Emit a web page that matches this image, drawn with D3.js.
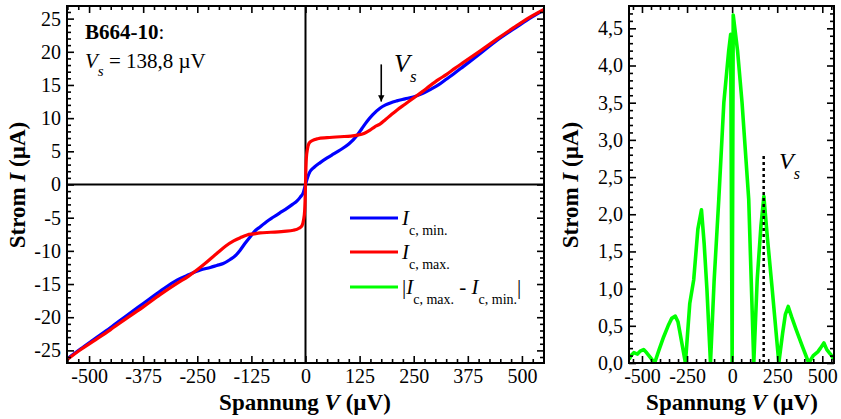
<!DOCTYPE html>
<html><head><meta charset="utf-8">
<script src="https://cdn.jsdelivr.net/npm/d3@7"></script>
<style>
body{margin:0;background:#fff;}
svg text{font-family:"Liberation Serif","Times New Roman",serif !important;fill:#000;}
</style></head>
<body><svg id="c" width="841" height="419"></svg>
<script>
// ---------- data ----------
const blueV = [-551,-520,-490,-451,-412,-374,-336,-297,-270,-243,-220,-205,-190,-174,-160,-151,-140,-128,-115,-105,-90,-74,-60,-43,-30,-20,-12,-5,0,5,10,20,34,50,65,80,100,119,130,142,155,172,185,196,211,230,249,270,288,307,326,345,365,403,442,480,510,551];
const blueI = [-26.3,-24.8,-23.4,-21.6,-19.7,-17.9,-16.1,-14.4,-13.6,-12.9,-12.5,-12.2,-11.9,-11.3,-10.6,-9.9,-8.9,-7.9,-6.9,-6.4,-5.6,-4.9,-4.3,-3.6,-3.0,-2.5,-1.9,-1.2,0,1.1,1.9,2.6,3.3,4.0,4.6,5.2,6.1,7.4,8.4,9.5,10.5,11.5,12.0,12.3,12.6,12.9,13.2,13.7,14.3,15.0,15.9,16.8,17.8,19.7,21.7,23.4,24.7,26.3];
const redV = [-551,-520,-490,-451,-412,-374,-336,-297,-270,-251,-230,-205,-185,-166,-150,-135,-120,-105,-80,-50,-28,-15,-8,-4.6,-2,-1,0,1,2,4.6,8,15,28,50,80,105,120,135,149,160,172,185,196,211,230,249,270,288,307,326,345,365,403,442,480,510,551];
const redI = [-26.4,-24.9,-23.6,-21.9,-20.1,-18.4,-16.6,-14.9,-13.8,-12.9,-11.8,-10.4,-9.3,-8.5,-8.0,-7.6,-7.45,-7.3,-7.2,-7.05,-6.9,-6.6,-6.2,-5.4,-4.0,-2.5,0,2.5,4.0,5.4,6.2,6.6,6.9,7.05,7.2,7.3,7.45,7.7,8.2,8.7,9.1,9.8,10.4,11.2,12.1,13.0,14.0,14.9,15.8,16.6,17.5,18.4,20.1,21.9,23.6,24.9,26.4];
const greenV = [-572,-560,-545,-525,-510,-491,-475,-455,-430,-405,-380,-355,-335,-315,-300,-285,-259,-235,-213,-190,-170,-155,-140,-120,-100,-74,-46,-19,-8,0,6,30,55,92,120,139,160,176,195,222,259,280,295,311,330,355,390,425,450,475,490,509,525,545,565];
const greenI = [0.05,0.1,0.14,0.12,0.16,0.18,0.14,0.08,0.0,0.18,0.35,0.5,0.6,0.63,0.55,0.35,0.0,0.8,1.12,1.8,2.06,1.6,1.0,0.0,1.1,2.2,3.5,4.2,4.42,0.0,4.68,4.2,3.5,2.2,0.0,1.12,1.85,2.24,1.7,1.0,0.0,0.4,0.65,0.76,0.62,0.45,0.22,0.0,0.1,0.15,0.2,0.27,0.18,0.12,0.05];
const leftXTicks = [-500,-375,-250,-125,0,125,250,375,500];
const leftYTicks = [-25,-20,-15,-10,-5,0,5,10,15,20,25];
const rightXTicks = [-500,-250,0,250,500];
const rightYTicks = [0,0.5,1.0,1.5,2.0,2.5,3.0,3.5,4.0,4.5];
const Vs = 175;

// ---------- drawing ----------
const svg = d3.select("#c");
const FONT = '"Liberation Serif", serif';
const fmtInt = d => String(d).replace("\u2212","-");
const fmtDec = d => d.toFixed(1).replace(".",",");

function frame(x, y, xMaj, xMin, yMaj, yMin, xf, yf) {
  const [x0,x1] = x.range(), [y0,y1] = y.range();
  const g = svg.append("g");
  const add = (axis, tr) => {
    const a = g.append("g").attr("transform", tr).call(axis);
    a.attr("font-family", FONT).attr("font-size", 20);
    a.select(".domain").remove();
    a.selectAll("line").attr("stroke","#000").attr("stroke-width",1.6);
    a.selectAll("text").attr("font-family", FONT).style("font-size","20px");
    return a;
  };
  add(d3.axisBottom(x).tickValues(xMin).tickSize(-4).tickFormat(""), `translate(0,${y0})`);
  add(d3.axisBottom(x).tickValues(xMaj).tickSize(-7).tickPadding(6).tickFormat(xf), `translate(0,${y0})`);
  add(d3.axisTop(x).tickValues(xMin).tickSize(-4).tickFormat(""), `translate(0,${y1})`);
  add(d3.axisTop(x).tickValues(xMaj).tickSize(-7).tickFormat(""), `translate(0,${y1})`);
  add(d3.axisLeft(y).tickValues(yMin).tickSize(-4).tickFormat(""), `translate(${x0},0)`);
  add(d3.axisLeft(y).tickValues(yMaj).tickSize(-7).tickPadding(6).tickFormat(yf), `translate(${x0},0)`);
  add(d3.axisRight(y).tickValues(yMin).tickSize(-4).tickFormat(""), `translate(${x1},0)`);
  add(d3.axisRight(y).tickValues(yMaj).tickSize(-7).tickFormat(""), `translate(${x1},0)`);
  g.append("rect").attr("x",x0).attr("y",y1).attr("width",x1-x0).attr("height",y0-y1)
    .attr("fill","none").attr("stroke","#000").attr("stroke-width",2);
}

// Left panel
const xL = d3.scaleLinear().domain([-551,551]).range([67,544]);
const yL = d3.scaleLinear().domain([-26.9,26.9]).range([363,6]);
const lxMin = d3.range(-550,551,25).filter(v=>v%125!==0);
const lyMin = d3.range(-26,27,1).filter(v=>v%5!==0);

svg.append("clipPath").attr("id","clipL").append("rect")
  .attr("x",67).attr("y",6).attr("width",477).attr("height",357);
const gl = svg.append("g").attr("clip-path","url(#clipL)");
gl.append("line").attr("x1",xL(0)).attr("x2",xL(0)).attr("y1",6).attr("y2",363).attr("stroke","#000").attr("stroke-width",2);
gl.append("line").attr("x1",67).attr("x2",544).attr("y1",yL(0)).attr("y2",yL(0)).attr("stroke","#000").attr("stroke-width",2);
const lineL = d3.line().x(d=>xL(d[0])).y(d=>yL(d[1])).curve(d3.curveMonotoneX);
gl.append("path").datum(blueV.map((v,i)=>[v,blueI[i]])).attr("d",lineL)
  .attr("fill","none").attr("stroke","#0000ff").attr("stroke-width",3.2);
gl.append("path").datum(redV.map((v,i)=>[v,redI[i]])).attr("d",lineL)
  .attr("fill","none").attr("stroke","#ff0000").attr("stroke-width",3.2);
frame(xL,yL,leftXTicks,lxMin,leftYTicks,lyMin,fmtInt,fmtInt);

// arrow
svg.append("defs").append("marker").attr("id","ah").attr("viewBox","0 0 10 10")
  .attr("refX",10).attr("refY",5).attr("markerWidth",4).attr("markerHeight",5)
  .attr("markerUnits","strokeWidth").attr("orient","auto")
  .append("path").attr("d","M0,0 L10,5 L0,10 z").attr("fill","#000");
svg.append("line").attr("x1",xL(Vs)).attr("x2",xL(Vs)).attr("y1",yL(18.1)).attr("y2",yL(12.5))
  .attr("stroke","#000").attr("stroke-width",1.6).attr("marker-end","url(#ah)");
const vsL = svg.append("text").attr("x",394).attr("y",72).style("font-size","26px");
vsL.append("tspan").style("font-style","italic").text("V");
vsL.append("tspan").attr("dy",10).style("font-style","italic").style("font-size","17px").text("s");

// sample label
const t1 = svg.append("text").attr("x",85).attr("y",39).style("font-size","21px");
t1.append("tspan").style("font-weight","bold").text("B664-10");
t1.append("tspan").text(":");
const t2 = svg.append("text").attr("x",85).attr("y",68).style("font-size","21px");
t2.append("tspan").style("font-style","italic").text("V");
t2.append("tspan").attr("dy",8).style("font-style","italic").style("font-size","15px").text("s");
t2.append("tspan").attr("dy",-8).text(" = 138,8 \u00b5V");

// legend
const leg = [["#0000ff","min."],["#ff0000","max."],["#00ff00",null]];
const legY = [218,252,287];
leg.forEach((l,i)=>{
  svg.append("line").attr("x1",350).attr("x2",398).attr("y1",legY[i]).attr("y2",legY[i])
    .attr("stroke",l[0]).attr("stroke-width",3);
  const t = svg.append("text").attr("x",402).attr("y",legY[i]+7).style("font-size","21px");
  if (l[1]) {
    t.append("tspan").style("font-style","italic").text("I");
    t.append("tspan").attr("dy",10).style("font-size","14px").text("c, "+l[1]);
  } else {
    t.append("tspan").text("|");
    t.append("tspan").style("font-style","italic").text("I");
    t.append("tspan").attr("dy",10).style("font-size","14px").text("c, max.");
    t.append("tspan").attr("dy",-10).text(" - ");
    t.append("tspan").style("font-style","italic").text("I");
    t.append("tspan").attr("dy",10).style("font-size","14px").text("c, min.");
    t.append("tspan").attr("dy",-10).text("|");
  }
});

// axis titles
function xTitle(cx){
  const t = svg.append("text").attr("x",cx).attr("y",410).attr("text-anchor","middle")
    .style("font-size","23px").style("font-weight","bold");
  t.append("tspan").text("Spannung ");
  t.append("tspan").style("font-style","italic").text("V");
  t.append("tspan").text(" (\u00b5V)");
}
function yTitle(bx, cy){
  const t = svg.append("text").attr("transform",`translate(${bx},${cy}) rotate(-90)`)
    .attr("text-anchor","middle").style("font-size","23px").style("font-weight","bold");
  t.append("tspan").text("Strom ");
  t.append("tspan").style("font-style","italic").text("I");
  t.append("tspan").text(" (\u00b5A)");
}
xTitle(305); yTitle(25,185);

// Right panel
const xR = d3.scaleLinear().domain([-572,565]).range([629,834]);
const yR = d3.scaleLinear().domain([0,4.8]).range([363,6]);
const rxMin = d3.range(-550,551,50).filter(v=>v%250!==0);
const ryMin = d3.range(1,48,1).map(v=>v/10).filter(v=>Math.round(v*10)%5!==0);
svg.append("clipPath").attr("id","clipR").append("rect")
  .attr("x",629).attr("y",6).attr("width",205).attr("height",357);
const gr = svg.append("g").attr("clip-path","url(#clipR)");
const lineR = d3.line().x(d=>xR(d[0])).y(d=>yR(d[1]));
gr.append("path").datum(greenV.map((v,i)=>[v,greenI[i]])).attr("d",lineR)
  .attr("fill","none").attr("stroke","#00ff00").attr("stroke-width",3.6).attr("stroke-linejoin","round");
gr.append("line").attr("x1",xR(Vs)).attr("x2",xR(Vs)).attr("y1",yR(0)).attr("y2",yR(2.82))
  .attr("stroke","#000").attr("stroke-width",2.5).attr("stroke-dasharray","3,3");
frame(xR,yR,rightXTicks,rxMin,rightYTicks,ryMin,fmtInt,fmtDec);
const vsR = svg.append("text").attr("x",779).attr("y",169).style("font-size","24px");
vsR.append("tspan").style("font-style","italic").text("V");
vsR.append("tspan").attr("dy",10).style("font-style","italic").style("font-size","16px").text("s");
xTitle(732); yTitle(578,185);
</script></body></html>
